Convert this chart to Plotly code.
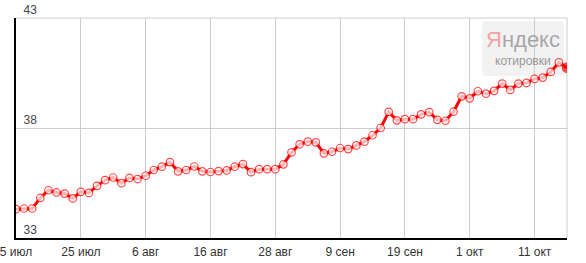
import plotly.graph_objects as go

# Trading-day index and closing values
idx = list(range(69))
values = [34.31, 34.34, 34.34, 34.82, 35.17, 35.07, 35.02, 34.80, 35.10, 35.05,
          35.37, 35.63, 35.75, 35.49, 35.73, 35.68, 35.83, 36.09, 36.24, 36.45,
          36.03, 36.09, 36.25, 36.03, 36.00, 36.04, 36.07, 36.24, 36.36, 35.99,
          36.13, 36.13, 36.13, 36.35, 36.89, 37.26, 37.38, 37.35, 36.85, 36.92,
          37.09, 37.04, 37.21, 37.38, 37.67, 38.00, 38.73, 38.35, 38.40, 38.40,
          38.62, 38.72, 38.37, 38.33, 38.74, 39.44, 39.35, 39.67, 39.56, 39.69,
          40.02, 39.73, 40.02, 40.05, 40.23, 40.29, 40.55, 40.98, 40.74]

x_tick_pos = [0, 8, 16, 24, 32, 40, 48, 56, 64]
x_tick_text = ["5 июл", "25 июл", "6 авг", "16 авг", "28 авг", "9 сен", "19 сен", "1 окт", "11 окт"]
y_ticks = [33, 38, 43]

W, H = 586, 263
ML, MR, MT, MB = 16, 19, 18, 25
PW, PH = W - ML - MR, H - MT - MB

def px2paper(x, y):
    return (x - ML) / PW, (H - MB - y) / PH

n = len(values)
fill = ["white"] * (n - 1) + ["#ff0000"]
sizes = [7.5] * (n - 1) + [9.5]

fig = go.Figure()
fig.add_trace(go.Scatter(
    x=idx, y=values, mode="lines+markers",
    line=dict(color="#ff0000", width=3),
    marker=dict(symbol="circle", size=sizes, color=fill,
                line=dict(color="#ff0000", width=1.2)),
    hoverinfo="skip", showlegend=False,
))

# frame lines at top and right edge (grid colour)
fig.add_shape(type="line", xref="paper", yref="paper", x0=0, x1=1, y0=1, y1=1,
              line=dict(color="#cccccc", width=1), layer="between")
fig.add_shape(type="line", xref="paper", yref="paper", x0=1, x1=1, y0=0, y1=1,
              line=dict(color="#cccccc", width=1), layer="between")

# Yandex logo box (rounded rect)
x0, y0 = px2paper(482, 21)
x1, y1 = px2paper(564, 76)
rx, ry = 4 / PW, 4 / PH
path = (f"M {x0+rx},{y0} L {x1-rx},{y0} Q {x1},{y0} {x1},{y0-ry} "
        f"L {x1},{y1+ry} Q {x1},{y1} {x1-rx},{y1} L {x0+rx},{y1} "
        f"Q {x0},{y1} {x0},{y1+ry} L {x0},{y0-ry} Q {x0},{y0} {x0+rx},{y0} Z")
fig.add_shape(type="path", path=path, xref="paper", yref="paper",
              fillcolor="#f2f2f2", line=dict(width=0), layer="between")

ax, ay = px2paper(522.5, 39)
fig.add_annotation(xref="paper", yref="paper", x=ax, y=ay, showarrow=False,
                   text='<span style="color:#f4a3a3">Я</span>ндекс',
                   font=dict(family="Liberation Sans Narrow, Arial Narrow, Liberation Sans, Arial", size=22, color="#a8a8a8"),
                   xanchor="center", yanchor="middle")
bx, by = px2paper(523, 61)
fig.add_annotation(xref="paper", yref="paper", x=bx, y=by, showarrow=False,
                   text="котировки",
                   font=dict(family="Arial, Liberation Sans", size=12, color="#999999"),
                   xanchor="center", yanchor="middle")

fig.update_layout(
    width=W, height=H,
    margin=dict(l=ML, r=MR, t=MT, b=MB, pad=0, autoexpand=False),
    paper_bgcolor="white", plot_bgcolor="white",
    font=dict(family="Arial, Liberation Sans", size=12, color="#333333"),
    xaxis=dict(range=[0, 68], tickvals=x_tick_pos, ticktext=x_tick_text,
               showgrid=True, gridcolor="#cccccc", gridwidth=1,
               showline=True, linecolor="#000000", linewidth=2,
               ticks="", zeroline=False, fixedrange=True, automargin=False,
               ticklabeloverflow="allow", ticklabelstandoff=2),
    yaxis=dict(range=[33, 43], tickvals=y_ticks,
               showgrid=True, gridcolor="#cccccc", gridwidth=1,
               showline=True, linecolor="#000000", linewidth=2,
               ticks="", ticklabelposition="inside top", zeroline=False, automargin=False,
               ticklabeloverflow="allow", ticklabelstandoff=6, fixedrange=True),
)

fig.write_html("out.html")
